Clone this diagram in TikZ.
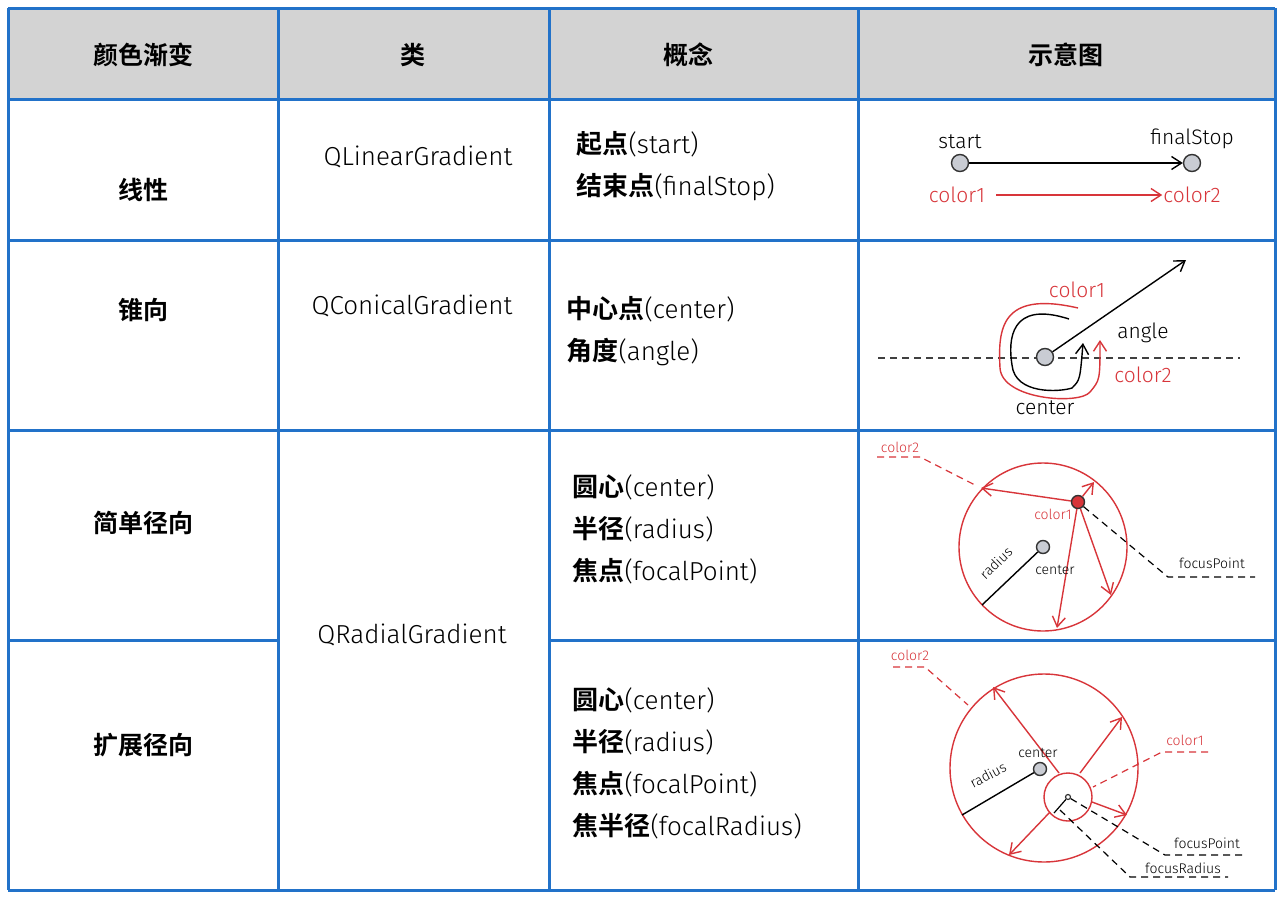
\documentclass[tikz,border=0pt]{standalone}
\usepackage{fontspec}
\setmainfont{Fira Sans Light}
\newfontfamily\cjk{Noto Sans CJK SC Bold}
\usetikzlibrary{arrows.meta, positioning}
\definecolor{gridblue}{HTML}{2272C9}
\definecolor{headgray}{HTML}{D3D3D3}
\definecolor{penred}{HTML}{D8353A}
\definecolor{dotgray}{HTML}{C9CCD3}
\tikzset{
  x=1pt, y=-1pt,
  head/.style = {font=\cjk\fontsize{25}{30}\selectfont},
  kind/.style = {font=\fontsize{26}{30}\selectfont},
  idea/.style = {font=\fontsize{26}{42}\selectfont, align=left, anchor=west},
  tag/.style = {font=\fontsize{21}{24}\selectfont, inner sep=1pt},
  smalltag/.style = {font=\fontsize{14}{16}\selectfont, inner sep=1pt},
  dot/.style = {circle, draw=black!80, fill=dotgray, line width=1.4pt, minimum size=17pt, inner sep=0pt},
  pen/.style = {line width=1.4pt, -{Straight Barb[length=10pt,width=13pt]}},
  redpen/.style = {pen, draw=penred},
  lead/.style = {dash pattern=on 7pt off 5pt, line width=1.2pt}
}
\newcommand{\zh}[1]{{\cjk #1}}
\begin{document}
\begin{tikzpicture}
\useasboundingbox (0,0) rectangle (1280,897);
\fill[white] (0,0) rectangle (1280,897);
% header
\fill[headgray] (8,8) rectangle (1275,99);
\foreach \y in {8,99,240,430,890} \draw[gridblue, line width=3pt] (8,\y) -- (1275,\y);
\draw[gridblue, line width=3pt] (8,640) -- (278,640);
\draw[gridblue, line width=3pt] (549,640) -- (1275,640);
\foreach \x in {8,278,549,858,1275} \draw[gridblue, line width=3pt] (\x,8) -- (\x,890);

\node[head] (h1) at (143,55) {颜色渐变};
\node[head] (h2) at (413,55) {类};
\node[head] (h3) at (688,55) {概念};
\node[head] (h4) at (1066,55) {示意图};

\node[head] (r1) at (143,190) {线性};
\node[head] (r2) at (143,310) {锥向};
\node[head] (r3) at (143,523) {简单径向};
\node[head] (r4) at (143,745) {扩展径向};

\node[kind] (k1) at (418,157) {QLinearGradient};
\node[kind] (k2) at (412,306) {QConicalGradient};
\node[kind] (k3) at (412,635) {QRadialGradient};

\node[idea] (c1) at (573,166) {\zh{起点}(start)\\\zh{结束点}(finalStop)};
\node[idea] (c2) at (563,331) {\zh{中心点}(center)\\\zh{角度}(angle)};
\node[idea] (c3) at (569,529) {\zh{圆心}(center)\\\zh{半径}(radius)\\\zh{焦点}(focalPoint)};
\node[idea] (c4) at (569,763) {\zh{圆心}(center)\\\zh{半径}(radius)\\\zh{焦点}(focalPoint)\\\zh{焦半径}(focalRadius)};

% linear
\node[dot] (start) at (960,163) {};
\node[dot] (stop) at (1192,163) {};
\node[tag, above=4pt of start] {start};
\node[tag, above=4pt of stop] {finalStop};
\draw[pen] (start) -- (stop);
\node[tag, text=penred] (lc1) at (957,195) {color1};
\node[tag, text=penred] (lc2) at (1192,195) {color2};
\draw[redpen, shorten <=10pt] (lc1) -- (lc2);

% conical
\draw[lead, black!75] (878,358) -- (1240,358);
\node[dot] (cc) at (1045,357) {};
\coordinate (tip) at (1186,260);
\draw[pen] (cc) -- (tip);
\draw[pen] (1069,319) .. controls (1010,300) and (1008,340) .. (1012,365)
  .. controls (1015,395) and (1060,392) .. (1072,388) .. controls (1080,380) .. (1083,343);
\draw[redpen] (1078,308) .. controls (1000,290) and (998,330) .. (1000,368)
  .. controls (1002,400) and (1080,405) .. (1090,392) .. controls (1100,380) .. (1100,340);
\node[tag, text=penred] at (1077,290) {color1};
\node[tag] at (1143,333) {angle};
\node[tag, text=penred] at (1143,375) {color2};
\node[tag] at (1045,408) {center};

% simple radial
\draw[penred, line width=1.4pt] (1043,547) circle (84);
\node[dot, minimum size=13pt] (sc) at (1043,547) {};
\node[circle, draw=black!80, fill=penred, line width=1.4pt, minimum size=13pt, inner sep=0pt] (sf) at (1078,502) {};
\foreach \p in {(981,488),(1094,482),(1057,628),(1111,595)} \draw[redpen] (sf) -- \p;
\coordinate (sr) at (982,605);
\draw[line width=1.4pt] (sc) -- (sr);
\node[smalltag, rotate=44] at (996,563) {radius};
\node[smalltag] at (1055,570) {center};
\node[smalltag, text=penred] at (1053,514) {color1};
\node[smalltag, text=penred] (s2) at (900,447) {color2};
\draw[lead, penred] (877,457) -- (920,457) -- (977,486);
\node[smalltag] at (1212,563) {focusPoint};
\draw[lead] (sf) -- (1168,577) -- (1255,577);

% extended radial
\draw[penred, line width=1.4pt] (1044,768) circle (94);
\draw[penred, line width=1.4pt] (1068,797) circle (24);
\node[dot, minimum size=13pt] (ec) at (1040,769) {};
\node[circle, draw=black!80, line width=1.2pt, minimum size=5pt, inner sep=0pt] (ef) at (1068,797) {};
\draw[redpen] (1059,773) -- (993,687);
\draw[redpen] (1080,773) -- (1122,717);
\draw[redpen] (1092,802) -- (1127,815);
\draw[redpen] (1050,812) -- (1009,855);
\draw[line width=1.4pt] (ec) -- (962,815);
\draw[line width=1.2pt] (ef) -- (1054,813);
\node[smalltag, rotate=28] at (988,775) {radius};
\node[smalltag] at (1038,753) {center};
\node[smalltag, text=penred] (e2) at (910,655) {color2};
\draw[lead, penred] (893,667) -- (925,667) -- (968,705);
\node[smalltag, text=penred] (e1) at (1185,740) {color1};
\draw[lead, penred] (1208,752) -- (1162,752) -- (1093,787);
\node[smalltag] at (1207,843) {focusPoint};
\draw[lead] (ef) -- (1165,855) -- (1245,855);
\node[smalltag] at (1183,868) {focusRadius};
\draw[lead] (1060,810) -- (1130,877) -- (1228,877);
\end{tikzpicture}
\end{document}
